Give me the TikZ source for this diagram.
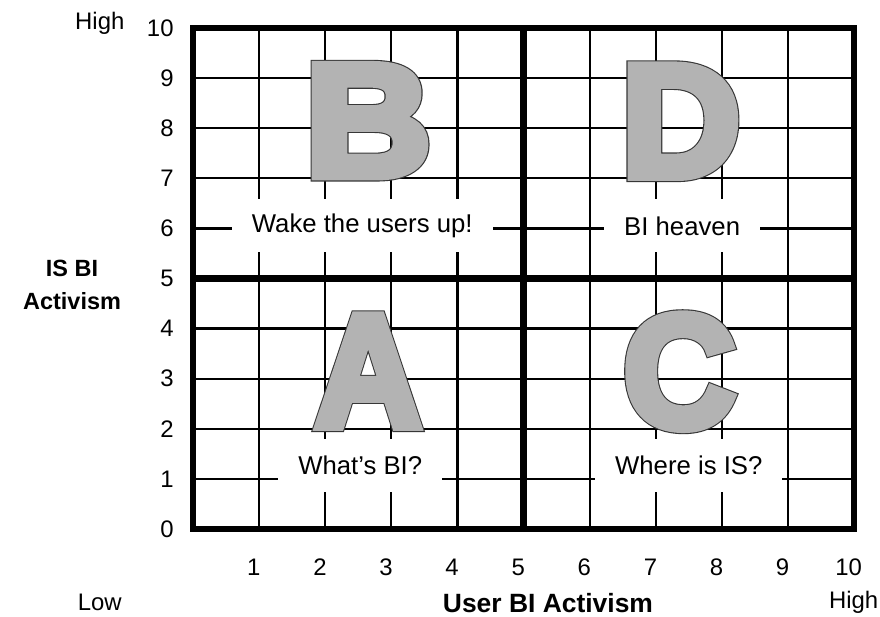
\documentclass[tikz,border=0pt]{standalone}
\usepackage{fontspec}
\setmainfont{Liberation Sans}
\newfontfamily\letterfont{Liberation Sans}[BoldFeatures={FakeBold=6}]
\newfontfamily\letteredgefont{Liberation Sans}[BoldFeatures={FakeBold=7.4}]
\usetikzlibrary{positioning}

\definecolor{lettergray}{RGB}{179,179,179}
\definecolor{letteredge}{RGB}{55,55,55}

\tikzset{
  gridline/.style  = {line width=1.6pt, draw=black},
  frameline/.style = {line width=4.8pt, draw=black},
  axisnum/.style   = {inner sep=0pt, font=\fontsize{17}{20}\selectfont},
  axisname/.style  = {inner sep=0pt, align=center,
                      font=\bfseries\fontsize{16.7}{24}\selectfont},
  quadlabel/.style = {fill=white, inner xsep=0.5cm, inner ysep=0pt,
                      minimum height=1.325cm,
                      font=\fontsize{18.3}{22}\selectfont},
  letteroutline/.style = {inner sep=0pt, text=letteredge, xscale=#1,
                      transform shape,
                      font=\letteredgefont\bfseries\fontsize{113.6}{114}\selectfont},
  bigletter/.style = {inner sep=0pt, text=lettergray, xscale=#1,
                      transform shape,
                      font=\letterfont\bfseries\fontsize{113.6}{114}\selectfont},
}

\begin{document}
\begin{tikzpicture}[x=1.6525cm, y=1.2525cm]
\useasboundingbox (-2.92,-1.737) rectangle (10.393,10.559);

% ── Grid: thin cells, thick frame and centre cross ─────────
\foreach \i in {1,2,3,4,6,7,8,9} {
  \draw[gridline] (\i,0) -- (\i,10);
  \draw[gridline] (0,\i) -- (10,\i);
}
\draw[frameline] (5,0) -- (5,10);
\draw[frameline] (0,5) -- (10,5);
\draw[frameline] (0,0) rectangle (10,10);

% ── Axis numbers ───────────────────────────────────────────
\foreach \i in {0,...,10}
  \node[axisnum, anchor=east] (ynum\i) at (-0.29,\i) {\i};
\foreach \i in {1,...,10}
  \node[axisnum] (xnum\i) at (\i-0.08,-0.76) {\i};

% ── Axis names ─────────────────────────────────────────────
\node[axisnum] (yhigh) at (-1.41,10.1) {High};
\node[axisname] (yname) at (-1.83,4.87) {IS BI\\Activism};
\node[axisnum] (xlow) at (-1.41,-1.457) {Low};
\node[axisname, font=\bfseries\fontsize{18.8}{22}\selectfont] (xname)
  at (5.37,-1.477) {User BI Activism};
\node[axisnum, anchor=east] (xhigh) at (10.37,-1.47) {High};

% ── Quadrant letters (dark edge under grey face) ───────────
\foreach \l/\x/\y/\s in {A/2.65/3.15/0.92, B/2.65/8.15/1.09,
                         C/7.36/3.14/0.97, D/7.38/8.14/1.03} {
  \node[letteroutline=\s] (edge\l) at (\x,\y) {\l};
  \node[bigletter=\s] (let\l) at (\x,\y) {\l};
}

% ── Quadrant captions ──────────────────────────────────────
\node[quadlabel] (capB) at (2.56,6.05) {Wake the users up!};
\node[quadlabel] (capD) at (7.40,6.05) {BI heaven};
\node[quadlabel] (capA) at (2.53,1.27) {What’s BI?};
\node[quadlabel] (capC) at (7.50,1.27) {Where is IS?};

\end{tikzpicture}
\end{document}
